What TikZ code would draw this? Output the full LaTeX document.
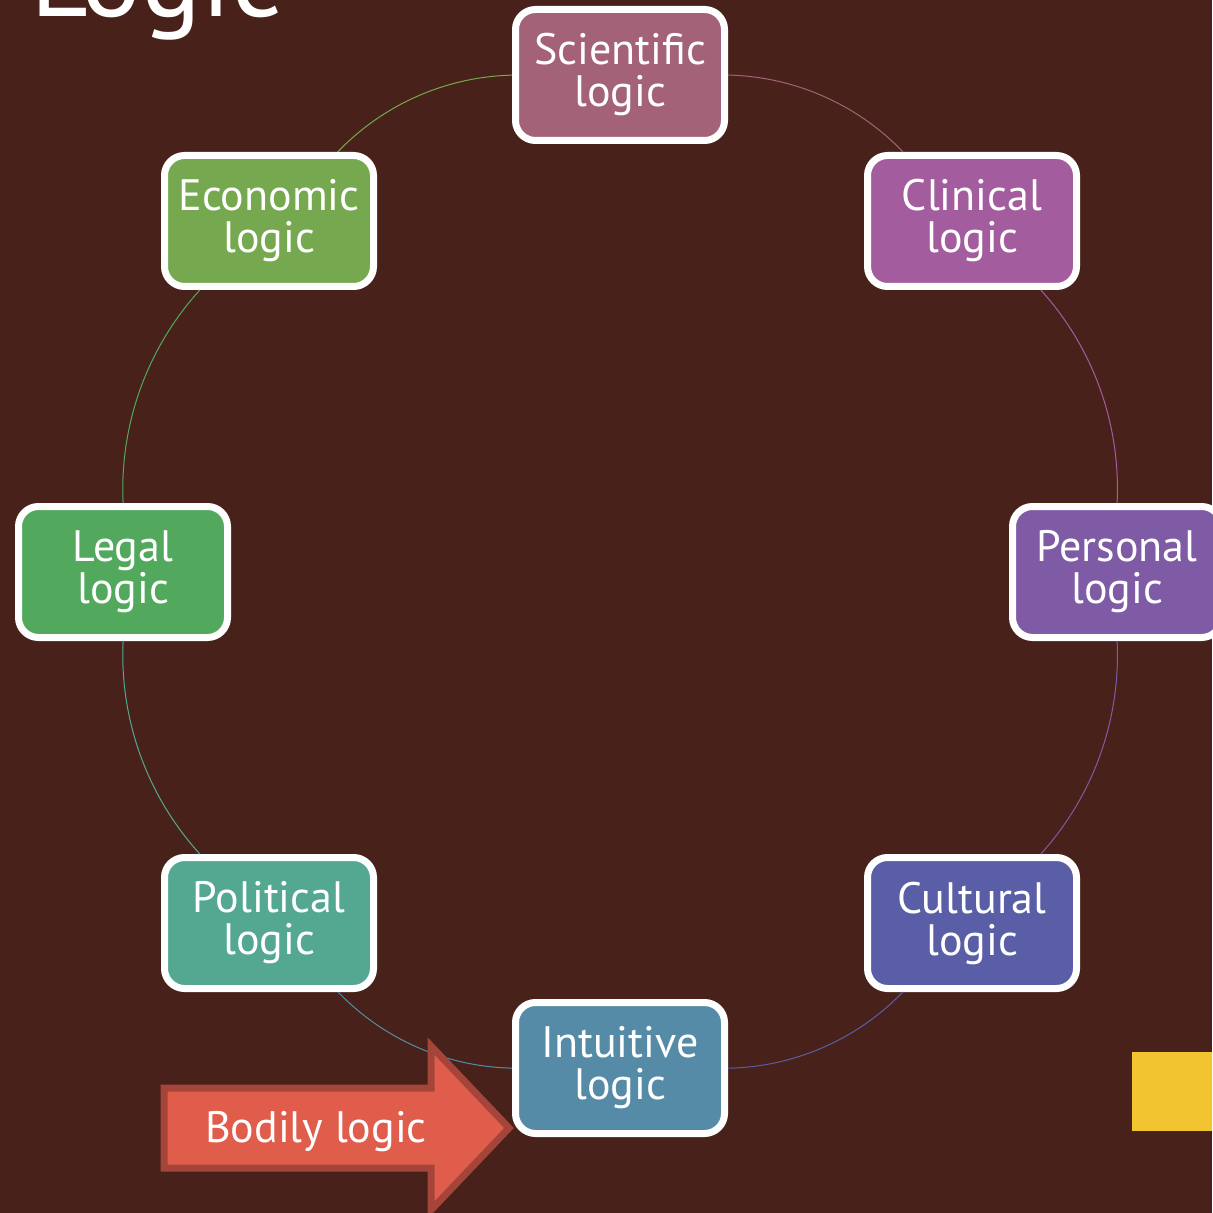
\documentclass[tikz,border=0pt]{standalone}
\usepackage{fontspec}
\setmainfont{PT Sans}
\usepackage{xcolor}
\usepackage{tikz}

\definecolor{bgbrown}{HTML}{48221A}
\definecolor{scientificcol}{HTML}{A46278}
\definecolor{clinicalcol}{HTML}{A35D9E}
\definecolor{personalcol}{HTML}{7F5BA6}
\definecolor{culturalcol}{HTML}{5A5EA6}
\definecolor{intuitivecol}{HTML}{568BA8}
\definecolor{politicalcol}{HTML}{54A891}
\definecolor{legalcol}{HTML}{52A95D}
\definecolor{economiccol}{HTML}{76A94F}
\definecolor{arrowfill}{HTML}{E05D4B}
\definecolor{arrowedge}{HTML}{A5453A}
\definecolor{accentyellow}{HTML}{F2C530}

\begin{document}
\begin{tikzpicture}[x=0.5pt,y=-0.5pt]
        % \tikzstyle{every path}=[very thick]

        \edef\sizebend{22.5}
        \tikzstyle{logicbox}=[draw=white,line width=3.5pt,rounded corners=10pt,
          minimum width=104.5pt,minimum height=65.5pt,inner sep=0pt,
          text=white,align=center,font=\fontsize{22}{21}\selectfont]
        \tikzstyle{ring}=[line width=0.5pt,bend left=\sizebend,looseness=0.885]

        %% Background
        \fill[bgbrown] (0,0) rectangle (1212,1213);
        \useasboundingbox (0,0) rectangle (1212,1213);
        \fill[accentyellow] (1132,1052) rectangle (1212,1131);

        %% Title
        \node[anchor=base west,inner sep=0pt,text=white,
          font=\fontsize{56}{56}\selectfont] (title) at (30,17) {Logic};

        %% Logic boxes
        \node[logicbox,fill=scientificcol] (sci) at (620,75) {Scientific\\logic};
        \node[logicbox,fill=clinicalcol] (cli) at (972,221) {Clinical\\logic};
        \node[logicbox,fill=personalcol] (per) at (1117,572) {Personal\\logic};
        \node[logicbox,fill=culturalcol] (cul) at (972,923) {Cultural\\logic};
        \node[logicbox,fill=intuitivecol] (intu) at (620,1068) {Intuitive\\logic};
        \node[logicbox,fill=politicalcol] (pol) at (269,923) {Political\\logic};
        \node[logicbox,fill=legalcol] (leg) at (123,572) {Legal\\logic};
        \node[logicbox,fill=economiccol] (eco) at (269,221) {Economic\\logic};

        %% Ring
        \draw[ring,scientificcol] (sci) to (cli);
        \draw[ring,clinicalcol] (cli) to (per);
        \draw[ring,personalcol] (per) to (cul);
        \draw[ring,culturalcol] (cul) to (intu);
        \draw[ring,intuitivecol] (intu) to (pol);
        \draw[ring,politicalcol] (pol) to (leg);
        \draw[ring,legalcol] (leg) to (eco);
        \draw[ring,economiccol] (eco) to (sci);

        %% Bodily logic arrow
        \draw[fill=arrowfill,draw=arrowedge,line width=3.5pt]
          (164,1088) -- (431,1088) -- (431,1046) -- (509,1128)
          -- (431,1210) -- (431,1168) -- (164,1168) -- cycle;
        \node[text=white,inner sep=0pt,font=\fontsize{22}{21}\selectfont] (bod) at (316,1132) {Bodily logic};
\end{tikzpicture}
\end{document}
